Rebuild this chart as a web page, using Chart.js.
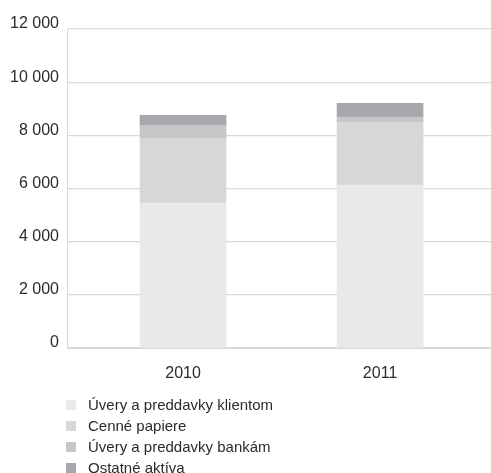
<!DOCTYPE html>
<html>
<head>
<meta charset="utf-8">
<script src="https://cdn.jsdelivr.net/npm/chart.js@4"></script>
<style>
  html, body { margin: 0; padding: 0; background: #fff; }
  #wrap { position: relative; width: 491px; height: 473px; }
  #chart { position: absolute; left: 0; top: 0; }
  #legend { position: absolute; left: 66px; top: 394px; margin: 0; padding: 0; list-style: none;
            font-family: Arial, "Liberation Sans", sans-serif; font-size: 15px; color: #2b2b2b; }
  #legend li { height: 21px; line-height: 21px; display: flex; align-items: center; }
  #legend .sw { width: 10px; height: 10px; margin-right: 12px; display: inline-block; }
</style>
</head>
<body>
<div id="wrap">
  <canvas id="chart" width="491" height="473"></canvas>
  <ul id="legend"></ul>
</div>
<script>
const years = [2010, 2011];
const seriesNames = [
  'Úvery a preddavky klientom',
  'Cenné papiere',
  'Úvery a preddavky bankám',
  'Ostatné aktíva'
];
const uveryKlientom = [5450, 6125];
const cennePapiere = [2436, 2362];
const uveryBankam = [488, 188];
const ostatneAktiva = [376, 525];
const yTicks = [0, 2000, 4000, 6000, 8000, 10000, 12000];

const colors = ['#e9e9e9', '#d7d7d7', '#c6c7c9', '#a7a8ab'];
const seriesValues = [uveryKlientom, cennePapiere, uveryBankam, ostatneAktiva];

const fmt = v => String(v).replace(/\B(?=(\d{3})+(?!\d))/g, ' ');
const font = { family: 'Arial, "Liberation Sans", sans-serif', size: 16 };

const datasets = seriesNames.map((name, s) => ({
  label: name,
  data: years.map((yr, i) => ({ x: yr, y: seriesValues[s][i] })),
  backgroundColor: colors[s],
  borderWidth: 0,
  barThickness: 86
}));

const chart = new Chart(document.getElementById('chart'), {
  type: 'bar',
  data: { datasets },
  options: {
    responsive: false,
    animation: false,
    layout: { padding: { top: 29, right: 0, bottom: 0, left: 0 } },
    plugins: { legend: { display: false }, tooltip: { enabled: false } },
    scales: {
      x: {
        type: 'linear',
        stacked: true,
        offset: false,
        min: 2009.411,
        max: 2011.563,
        afterFit: s => { s.height = 125; },
        afterBuildTicks: s => { s.ticks = years.map(v => ({ value: v })); },
        grid: { display: false, drawTicks: false },
        border: { display: true, color: '#d6d6d6', width: 1 },
        ticks: { font, color: '#2b2b2b', padding: 16, callback: v => String(v) }
      },
      y: {
        stacked: true,
        min: 0,
        max: 12000,
        afterFit: s => { s.width = 67; },
        afterBuildTicks: s => { s.ticks = yTicks.map(v => ({ value: v })); },
        grid: { color: '#dadada', lineWidth: 1.3, drawTicks: false },
        border: { display: true, color: '#d6d6d6', width: 1 },
        ticks: { font, color: '#2b2b2b', padding: 8, labelOffset: -5, callback: v => fmt(v) }
      }
    }
  }
});

// legend list built from the chart's datasets
const legend = document.getElementById('legend');
chart.data.datasets.forEach(ds => {
  const li = document.createElement('li');
  const sw = document.createElement('span');
  sw.className = 'sw';
  sw.style.background = ds.backgroundColor;
  li.appendChild(sw);
  li.appendChild(document.createTextNode(ds.label));
  legend.appendChild(li);
});
</script>
</body>
</html>
